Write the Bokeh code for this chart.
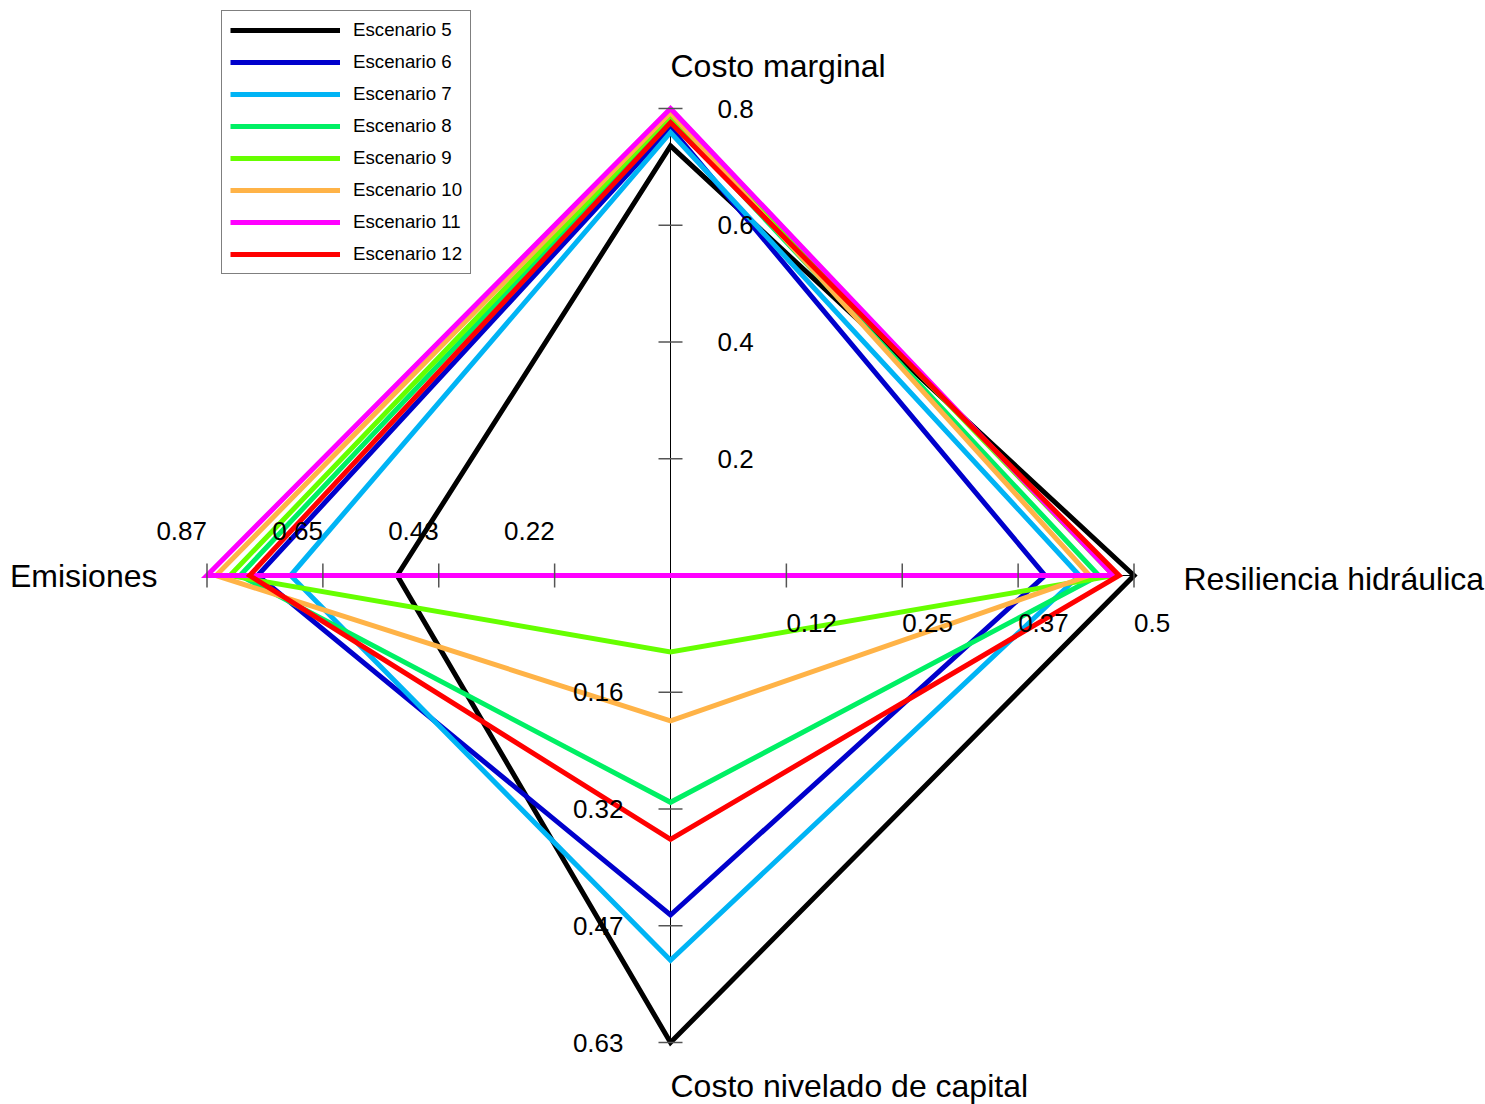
from bokeh.plotting import figure
from bokeh.models import Range1d, Legend, LegendItem
from bokeh.embed import file_html
from bokeh.resources import INLINE
from bokeh.core.properties import value

# ---------------- data ----------------
axis_names = ["Costo marginal", "Resiliencia hidráulica", "Costo nivelado de capital", "Emisiones"]
axis_max = [0.8, 0.5, 0.63, 0.87]
tick_fracs = [0.25, 0.5, 0.75, 1.0]
ticks_costo_marginal = ["0.2", "0.4", "0.6", "0.8"]
ticks_resiliencia = ["0.12", "0.25", "0.37", "0.5"]
ticks_costo_capital = ["0.16", "0.32", "0.47", "0.63"]
ticks_emisiones = ["0.22", "0.43", "0.65", "0.87"]

scenarios = ["Escenario 5", "Escenario 6", "Escenario 7", "Escenario 8",
             "Escenario 9", "Escenario 10", "Escenario 11", "Escenario 12"]
costo_marginal = [0.736, 0.767, 0.759, 0.783, 0.788, 0.793, 0.800, 0.776]
resiliencia = [0.500, 0.404, 0.441, 0.462, 0.478, 0.452, 0.478, 0.484]
costo_capital = [0.630, 0.458, 0.519, 0.306, 0.103, 0.196, 0.000, 0.356]
emisiones = [0.513, 0.775, 0.713, 0.808, 0.827, 0.853, 0.870, 0.790]
colors = ["#000000", "#0000CC", "#00B4F5", "#00F064", "#66FF00", "#FFB347", "#FF00FF", "#FF0000"]

# ---------------- geometry ----------------
W, H = 1485, 1104
SX, SY = 463.5, 467.0   # pixels per unit radius (horizontal / vertical axes)
cx, cy = 670, 575       # centre, pixels from top-left of the canvas
dirs = [(0, 1), (1, 0), (0, -1), (-1, 0)]   # top, right, bottom, left
FONT = "Liberation Sans"

p = figure(width=W, height=H,
           x_range=Range1d(-cx / SX, (W - cx) / SX),
           y_range=Range1d(-(H - cy) / SY, cy / SY),
           output_backend="svg", toolbar_location=None,
           x_axis_type=None, y_axis_type=None, min_border=0,
           outline_line_color=None, background_fill_color="white",
           border_fill_color="white")
p.grid.visible = False

# axis lines
p.segment(x0=[dirs[3][0], dirs[0][0]], y0=[dirs[3][1], dirs[0][1]],
          x1=[dirs[1][0], dirs[2][0]], y1=[dirs[1][1], dirs[2][1]],
          line_color="black", line_width=1)

# data polygons
renderers = []
series = [costo_marginal, resiliencia, costo_capital, emisiones]
for i, name in enumerate(scenarios):
    vals = [series[k][i] / axis_max[k] for k in range(4)]
    xs = [dirs[k][0] * vals[k] for k in range(4)]
    ys = [dirs[k][1] * vals[k] for k in range(4)]
    xs = xs + xs[:2]
    ys = ys + ys[:2]
    r = p.line(xs, ys, line_color=colors[i], line_width=5, line_join="miter")
    renderers.append(r)

# ticks
hx, hy = 12 / SX, 12 / SY
tx0, ty0, tx1, ty1 = [], [], [], []
for k, (dx, dy) in enumerate(dirs):
    for f in tick_fracs:
        x, y = dx * f, dy * f
        if dx == 0:
            tx0.append(x - hx); tx1.append(x + hx); ty0.append(y); ty1.append(y)
        else:
            tx0.append(x); tx1.append(x); ty0.append(y - hy); ty1.append(y + hy)
p.segment(x0=tx0, y0=ty0, x1=tx1, y1=ty1, line_color="#555555", line_width=1.5)

# tick labels
tick_font = "26px"
p.text(x=[47 / SX] * 4, y=tick_fracs, text=ticks_costo_marginal,
       text_font=value(FONT), text_font_size=tick_font,
       text_align="left", text_baseline="middle", text_color="black")
p.text(x=tick_fracs, y=[-47 / SY] * 4, text=ticks_resiliencia,
       text_font=value(FONT), text_font_size=tick_font,
       text_align="left", text_baseline="middle", text_color="black")
p.text(x=[-47 / SX] * 4, y=[-f for f in tick_fracs], text=ticks_costo_capital,
       text_font=value(FONT), text_font_size=tick_font,
       text_align="right", text_baseline="middle", text_color="black")
p.text(x=[-f for f in tick_fracs], y=[45 / SY] * 4, text=ticks_emisiones,
       text_font=value(FONT), text_font_size=tick_font,
       text_align="right", text_baseline="middle", text_color="black")

# axis titles
title_font = "32px"
p.text(x=[0, 513 / SX, 0], y=[510 / SY, -3 / SY, -510 / SY],
       text=[axis_names[0], axis_names[1], axis_names[2]],
       text_font=value(FONT), text_font_size=title_font,
       text_align="left", text_baseline="middle", text_color="black")
p.text(x=[-513 / SX], y=[0], text=[axis_names[3]],
       text_font=value(FONT), text_font_size=title_font,
       text_align="right", text_baseline="middle", text_color="black")

# legend
legend = Legend(items=[LegendItem(label=n, renderers=[r]) for n, r in zip(scenarios, renderers)],
                location=(221, 830), padding=8, spacing=10, margin=0,
                glyph_width=110, glyph_height=22, label_height=22, label_standoff=13,
                label_text_font=FONT, label_text_font_size="18.7px", label_text_color="black",
                border_line_color="black", border_line_width=1,
                background_fill_color="white", background_fill_alpha=1.0)
p.add_layout(legend)

open("out.html", "w").write(file_html(p, INLINE))
